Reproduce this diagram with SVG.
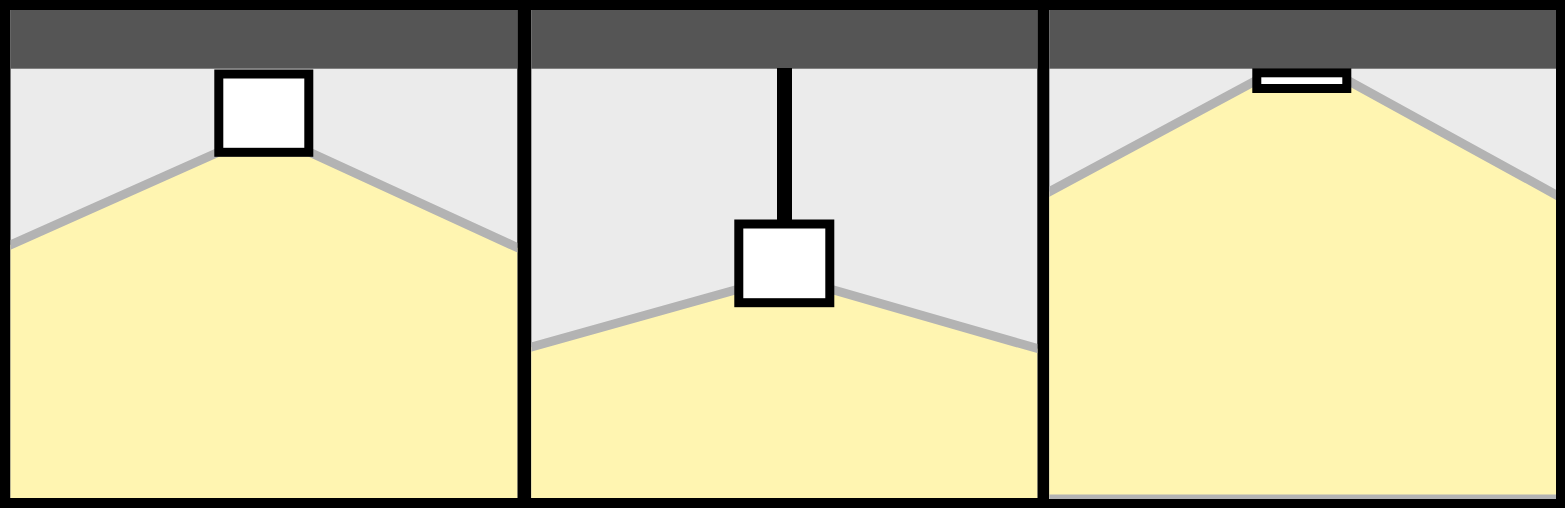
<svg xmlns="http://www.w3.org/2000/svg" width="1565" height="508" viewBox="0 0 1565 508">
  <style>
    .wall { fill: #ebebeb; }
    .band { fill: #555555; }
    .light { fill: #fff5b1; stroke: #b3b3b3; stroke-width: 9; stroke-linejoin: miter; }
    .fix { fill: #ffffff; stroke: #000000; stroke-width: 9; }
  </style>
  <defs>
    <clipPath id="c1"><rect x="10.5" y="10" width="506.8" height="488"/></clipPath>
    <clipPath id="c2"><rect x="531.3" y="10" width="506" height="488"/></clipPath>
    <clipPath id="c3"><rect x="1049.3" y="10" width="506.7" height="489"/></clipPath>
  </defs>
  <rect x="0" y="0" width="1565" height="508" fill="#000000"/>
  <g id="panel1" clip-path="url(#c1)">
    <rect class="wall" x="10" y="10" width="508" height="490"/>
    <polygon class="light" points="-10,254 219,152 309,152 540,258 540,530 -10,530"/>
    <rect class="band" x="10" y="10" width="508" height="58.7"/>
    <rect id="fixture1" class="fix" x="218.8" y="74" width="90" height="78.3"/>
  </g>
  <g id="panel2" clip-path="url(#c2)">
    <rect class="wall" x="531" y="10" width="507" height="490"/>
    <polygon class="light" points="510,353 739,289 830,289 1060,355 1060,530 510,530"/>
    <rect class="band" x="531" y="10" width="507" height="58.7"/>
    <rect id="pole" x="777" y="68" width="15" height="153" fill="#000000"/>
    <rect id="fixture2" class="fix" x="738.8" y="224" width="91" height="78.7"/>
  </g>
  <g id="panel3" clip-path="url(#c3)">
    <rect class="wall" x="1049" y="10" width="508" height="490"/>
    <polygon class="light" points="1030,202 1257,80 1347,80 1580,208 1580,499 1030,499"/>
    <rect class="band" x="1049" y="10" width="508" height="58.7"/>
    <rect id="fixture3" class="fix" x="1256.8" y="72.8" width="90" height="15.7"/>
  </g>
</svg>
